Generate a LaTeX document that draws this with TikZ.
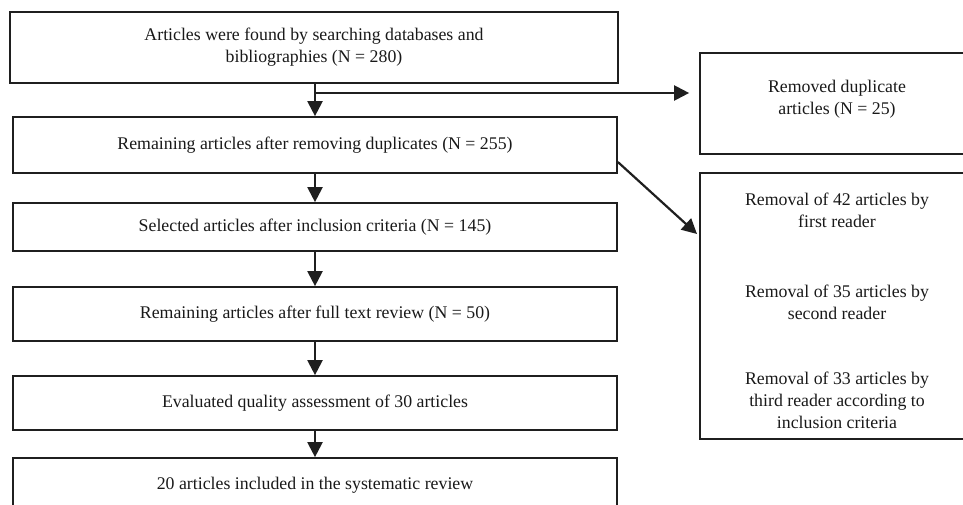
\documentclass[tikz,border=0pt]{standalone}
\usepackage{fontspec}
\setmainfont{Liberation Serif}
\usetikzlibrary{arrows.meta}
\begin{document}
\begin{tikzpicture}[x=1pt,y=-1pt,
  box/.style={draw=black!88, line width=1.7pt, inner sep=0pt, align=center,
    font=\fontsize{17.8}{22}\selectfont, text=black!90},
  lbox/.style={box, minimum width=604pt},
  txt/.style={inner sep=0pt, align=center, font=\fontsize{17.8}{22}\selectfont, text=black!90},
  arr/.style={line width=2.2pt, draw=black!88, -{Triangle[length=15pt,width=15pt]}}]
\useasboundingbox (0,0) rectangle (963,505);
\clip (0,0) rectangle (963,505);
% left column
\node[box, minimum width=608pt, minimum height=71pt] (b1) at (314,47.5)
  {Articles were found by searching databases and\\ bibliographies (N = 280)};
\node[lbox, minimum height=56pt] (b2) at (315,145)
  {Remaining articles after removing duplicates (N = 255)};
\node[lbox, minimum height=48pt] (b3) at (315,227)
  {Selected articles after inclusion criteria (N = 145)};
\node[lbox, minimum height=54pt] (b4) at (315,314)
  {Remaining articles after full text review (N = 50)};
\node[lbox, minimum height=54pt] (b5) at (315,403)
  {Evaluated quality assessment of 30 articles};
\node[lbox, minimum height=54pt] (b6) at (315,485)
  {20 articles included in the systematic review};
% right column
\node[box, minimum width=274pt, minimum height=101pt] (r1) at (837,103.5) {};
\node[txt] (r1t) at (837,99.5) {Removed duplicate\\ articles (N = 25)};
\node[box, minimum width=274pt, minimum height=266pt] (r2) at (837,306) {};
\node[txt] (r2a) at (837,210) {Removal of 42 articles by\\ first reader};
\node[txt] (r2b) at (837,302) {Removal of 35 articles by\\ second reader};
\node[txt] (r2c) at (837,400) {Removal of 33 articles by\\ third reader according to\\ inclusion criteria};
% connectors
\coordinate (br) at (315,93);
\coordinate (d) at (697,234);
\draw[arr] (b2.north |- b1.south) -- (b2.north);
\draw[arr] (br) -- ([xshift=-10pt]r1.west |- br);
\draw[arr] ([yshift=-17pt]b2.east) -- (d);
\draw[arr] (b2.south) -- (b3.north);
\draw[arr] (b3.south) -- (b4.north);
\draw[arr] (b4.south) -- (b5.north);
\draw[arr] (b5.south) -- (b6.north);
\end{tikzpicture}
\end{document}
